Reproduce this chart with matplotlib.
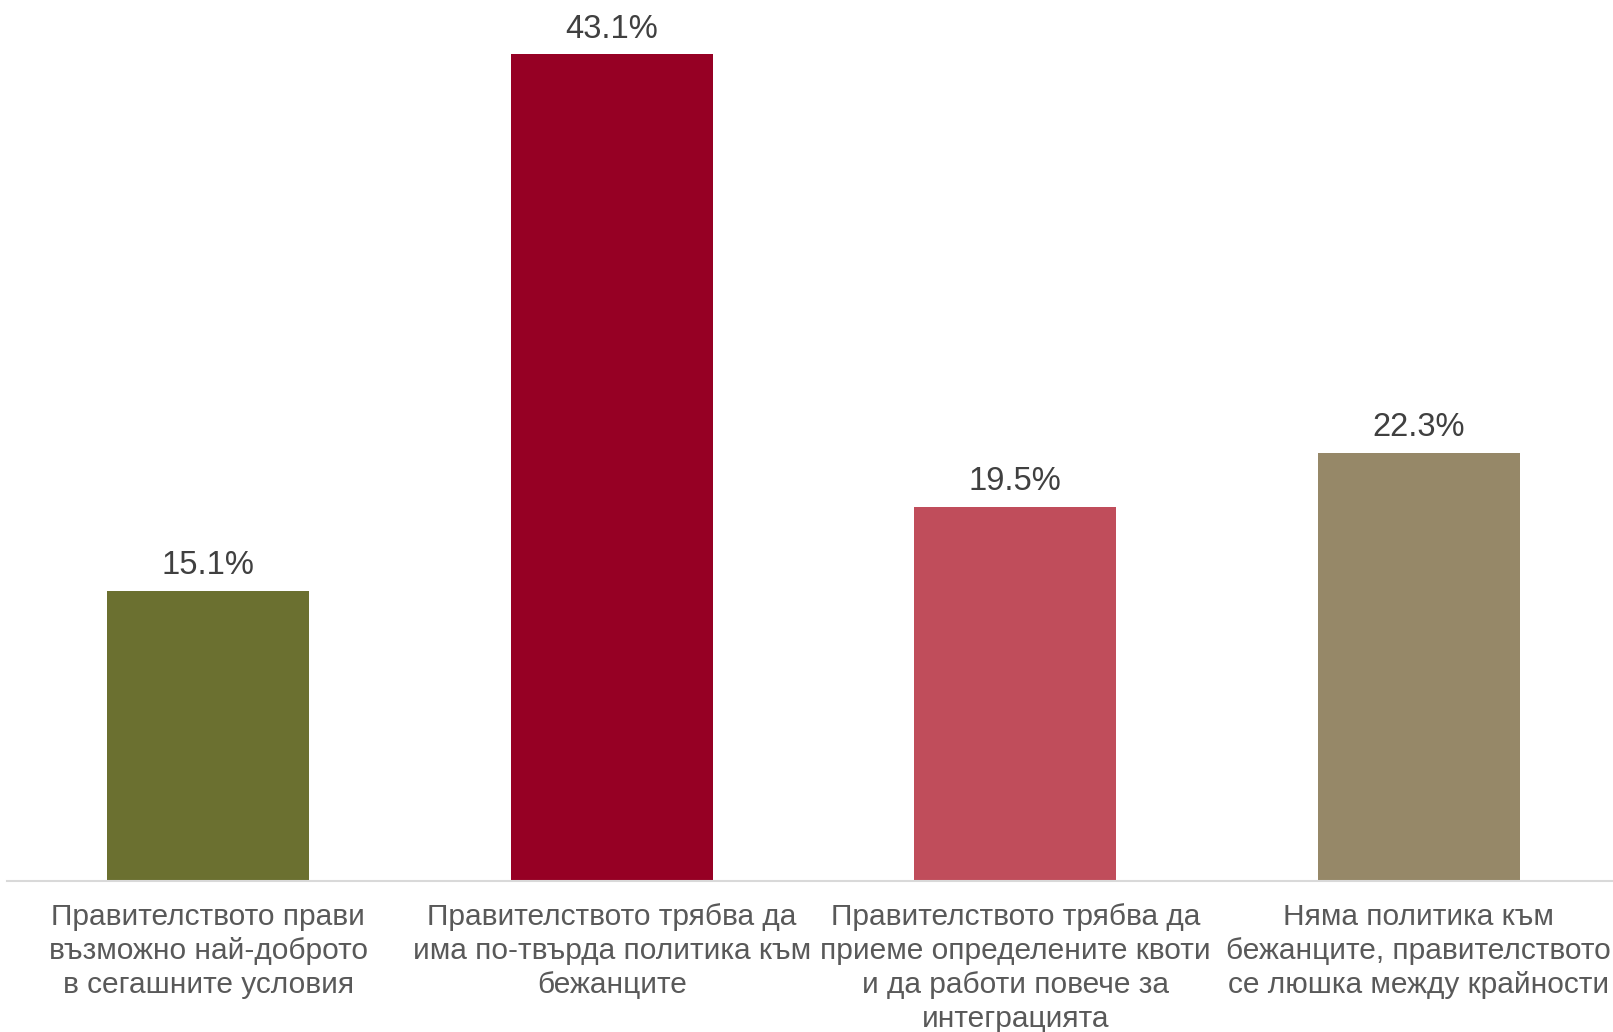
import numpy as np
import matplotlib
matplotlib.use("Agg")
import matplotlib.pyplot as plt

plt.rcParams['font.family'] = ['Liberation Sans', 'DejaVu Sans']

categories = [
    "Правителството прави\nвъзможно най-доброто\nв сегашните условия",
    "Правителството трябва да\nима по-твърда политика към\nбежанците",
    "Правителството трябва да\nприеме определените квоти\nи да работи повече за\nинтеграцията",
    "Няма политика към\nбежанците, правителството\nсе люшка между крайности",
]
values = [15.1, 43.1, 19.5, 22.3]
colors = ["#6b7030", "#960024", "#c04d5b", "#968868"]

fig = plt.figure(figsize=(16.13, 10.32), dpi=100)
ax = fig.add_axes([6.5 / 1613, 151.4 / 1032, 1614 / 1613, 862.6 / 1032])

x = np.arange(len(values))
bars = ax.bar(x, values, width=0.5, color=colors)
for b, v in zip(bars, values):
    ax.annotate(f"{v:.1f}%", (b.get_x() + b.get_width() / 2, v),
                xytext=(0, 7), textcoords="offset points",
                ha="center", va="bottom", fontsize=23.5, color="#404040")

ax.set_xlim(-0.5, 3.5)
ax.set_ylim(0, 45)
ax.set_xticks(x)
ax.set_xticklabels(categories, fontsize=21.5, color="#595959", linespacing=1.27)
ax.tick_params(axis="x", length=0, pad=16)
ax.set_yticks([])
for s in ["top", "right", "left"]:
    ax.spines[s].set_visible(False)
ax.spines["bottom"].set_color("#d9d9d9")
ax.spines["bottom"].set_linewidth(1.5)

fig.savefig("out.png", dpi=100)
